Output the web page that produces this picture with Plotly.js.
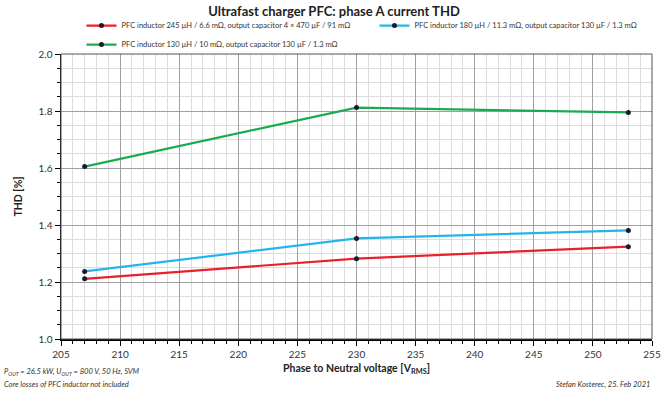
<!DOCTYPE html>
<html><head><meta charset="utf-8">
<script src="https://cdn.plot.ly/plotly-3.0.1.min.js"></script>
<style>html,body{margin:0;padding:0;background:#fff}#c{width:668px;height:394px}</style>
</head><body><div id="c"></div>
<script>
const voltage = [207, 230, 253];
const thd245 = [1.211, 1.282, 1.324];
const thd180 = [1.237, 1.353, 1.381];
const thd130 = [1.605, 1.812, 1.795];
const names = [
  "PFC inductor 245 µH / 6.6 mΩ, output capacitor 4 × 470 µF / 91 mΩ",
  "PFC inductor 180 µH / 11.3 mΩ, output capacitor 130 µF / 1.3 mΩ",
  "PFC inductor 130 µH / 10 mΩ, output capacitor 130 µF / 1.3 mΩ"
];
const colors = ["#e8202a", "#23b5ea", "#1aab52"];
const series = [thd245, thd180, thd130];
const FONT = "Lato, 'Open Sans', sans-serif";
const traces = series.map((s, i) => ({
  x: voltage, y: s, name: names[i], type: "scatter", mode: "lines+markers",
  line: {color: colors[i], width: 2.2},
  marker: {color: "#1a1a2e", size: 5}
}));
const layout = {
  width: 668, height: 394,
  margin: {l: 61, r: 16, t: 54, b: 55, autoexpand: false},
  paper_bgcolor: "#fff", plot_bgcolor: "#fff",
  font: {family: FONT, size: 10, color: "#333"},
  title: {text: "<b>Ultrafast charger PFC: phase A current THD</b>", x: 0.5, xanchor: "center", y: 0.97, yanchor: "middle", font: {size: 13, color: "#222", family: FONT}},
  showlegend: true,
  legend: {orientation: "h", xref: "container", yref: "container", x: 0.122, xanchor: "left", y: 0.972, yanchor: "top",
    font: {size: 7.5, color: "#333", family: FONT}, entrywidth: 248, entrywidthmode: "pixels",
    itemwidth: 30, tracegroupgap: 0, bgcolor: "rgba(0,0,0,0)"},
  xaxis: {
    range: [205, 255], dtick: 5, tick0: 205,
    showgrid: true, gridcolor: "#a0a0a0", gridwidth: 1,
    minor: {dtick: 1, showgrid: true, gridcolor: "#dcdcdc", gridwidth: 1, ticks: "outside", ticklen: 3, tickcolor: "#000"},
    ticks: "outside", ticklen: 5, tickcolor: "#000",
    showline: true, linecolor: "#000", linewidth: 1.5, mirror: false,
    zeroline: false, tickfont: {size: 10, color: "#333"},
    title: {text: "<b>Phase to Neutral voltage [V<sub>RMS</sub>]</b>", font: {size: 10.5, color: "#222"}, standoff: 6}
  },
  yaxis: {
    range: [1.0, 2.0], dtick: 0.2, tick0: 1.0, tickformat: ".1f",
    showgrid: true, gridcolor: "#a0a0a0", gridwidth: 1,
    minor: {dtick: 0.05, showgrid: true, gridcolor: "#dcdcdc", gridwidth: 1, ticks: "outside", ticklen: 3, tickcolor: "#000"},
    ticks: "outside", ticklen: 5, tickcolor: "#000",
    showline: true, linecolor: "#000", linewidth: 1.5,
    zeroline: false, tickfont: {size: 10, color: "#333"},
    title: {text: "<b>THD [%]</b>", font: {size: 10.5, color: "#222"}, standoff: 14}
  },
  shapes: [
    {type: "rect", xref: "paper", yref: "paper", x0: 0, x1: 1, y0: 0, y1: 1, line: {color: "#555", width: 1}}
  ],
  annotations: [
    {xref: "paper", yref: "paper", x: -0.1, y: -0.117, xanchor: "left", yanchor: "middle", showarrow: false,
     text: "<i>P<sub>OUT</sub> = 26.5 kW, U<sub>OUT</sub> = 800 V, 50 Hz, SVM</i>", font: {size: 7.5, color: "#333"}},
    {xref: "paper", yref: "paper", x: -0.1, y: -0.158, xanchor: "left", yanchor: "middle", showarrow: false,
     text: "<i>Core losses of PFC inductor not included</i>", font: {size: 7.5, color: "#333"}},
    {xref: "paper", yref: "paper", x: 1.0, y: -0.158, xanchor: "right", yanchor: "middle", showarrow: false,
     text: "<i>Stefan Kosterec, 25. Feb 2021</i>", font: {size: 7.5, color: "#333"}}
  ]
};
Plotly.newPlot("c", traces, layout, {displayModeBar: false, staticPlot: true});
</script></body></html>
